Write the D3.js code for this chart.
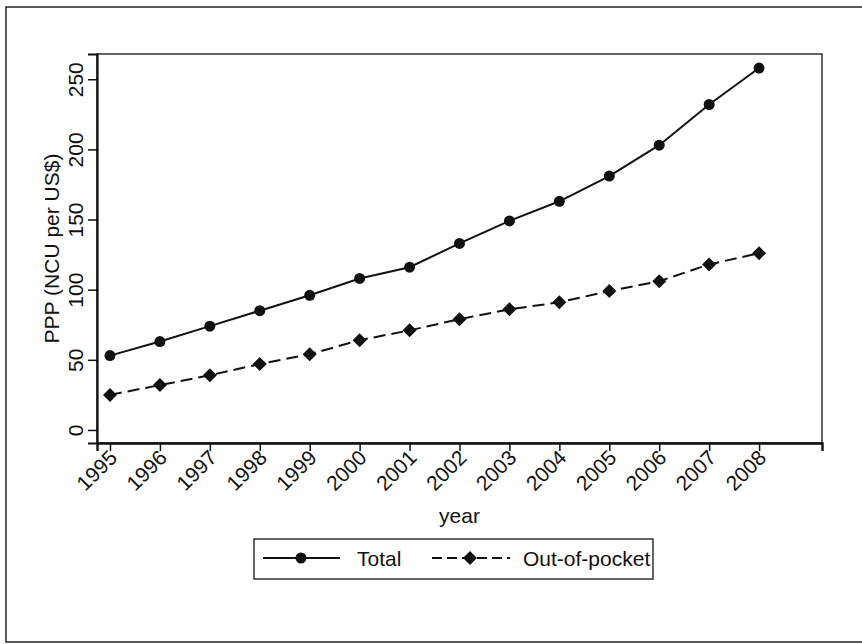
<!DOCTYPE html>
<html>
<head>
<meta charset="utf-8">
<script src="https://cdn.jsdelivr.net/npm/d3@7"></script>
<style>
  html, body { margin: 0; padding: 0; background: #fff; }
  svg { display: block; }
  text { font-family: "Liberation Sans", Arial, sans-serif; fill: #111; }
</style>
</head>
<body>
<svg id="chart" width="862" height="644"></svg>
<script>
// PPP conversion rates by year
const years = [1995, 1996, 1997, 1998, 1999, 2000, 2001, 2002, 2003, 2004, 2005, 2006, 2007, 2008];
const totalValues = [53, 63, 74, 85, 96, 108, 116, 133, 149, 163, 181, 203, 232, 258];
const outOfPocketValues = [25, 32, 39, 47, 54, 64, 71, 79, 86, 91, 99, 106, 118, 126];
const yTicks = [0, 50, 100, 150, 200, 250];
const seriesNames = ["Total", "Out-of-pocket"];

const svg = d3.select("#chart");
const W = 862, H = 644;
const plot = { left: 97, right: 822, top: 54, bottom: 443 };

// outer graph frame
svg.append("rect")
  .attr("x", 6).attr("y", 7)
  .attr("width", 860).attr("height", 635)
  .attr("fill", "none").attr("stroke", "#333").attr("stroke-width", 1.6);

const x = d3.scaleLinear().domain([1994.74, 2009.26]).range([plot.left, plot.right]);
const y = d3.scaleLinear().domain([-9.3, 268]).range([plot.bottom, plot.top]);

// plot region border
svg.append("rect")
  .attr("x", plot.left).attr("y", plot.top)
  .attr("width", plot.right - plot.left).attr("height", plot.bottom - plot.top)
  .attr("fill", "none").attr("stroke", "#222").attr("stroke-width", 1.4);

// y axis
const yAxis = svg.append("g")
  .attr("transform", `translate(${plot.left},0)`)
  .call(d3.axisLeft(y).tickValues(yTicks).tickSize(9).tickPadding(0).tickFormat(d3.format("d")));
yAxis.select(".domain").attr("stroke", "#111").attr("stroke-width", 2.2);
yAxis.selectAll(".tick line").attr("stroke", "#111").attr("stroke-width", 1.5);
yAxis.selectAll(".tick text")
  .attr("x", null).attr("dy", null)
  .attr("transform", "translate(-14,0) rotate(-90)")
  .attr("text-anchor", "middle")
  .style("font-size", "21px")
  .style("font-family", "Liberation Sans, Arial, sans-serif")
  .attr("fill", "#111");

// x axis
const xAxis = svg.append("g")
  .attr("transform", `translate(0,${plot.bottom})`)
  .call(d3.axisBottom(x).tickValues(years).tickSize(8).tickPadding(0).tickFormat(d3.format("d")));
xAxis.select(".domain").attr("stroke", "#111").attr("stroke-width", 2.4);
xAxis.selectAll(".tick line").attr("stroke", "#111").attr("stroke-width", 1.5);
xAxis.selectAll(".tick text")
  .attr("y", null).attr("dy", null)
  .attr("transform", "translate(4,12) rotate(-45)")
  .attr("text-anchor", "end")
  .attr("dominant-baseline", "middle")
  .style("font-size", "21px")
  .style("font-family", "Liberation Sans, Arial, sans-serif")
  .attr("fill", "#111");

// axis titles
svg.append("text")
  .attr("transform", `translate(59,${(plot.top + plot.bottom) / 2}) rotate(-90)`)
  .attr("text-anchor", "middle")
  .style("font-size", "21px")
  .text("PPP (NCU per US$)");

svg.append("text")
  .attr("x", (plot.left + plot.right) / 2).attr("y", 523)
  .attr("text-anchor", "middle")
  .style("font-size", "21px")
  .text("year");

// series
const totalData = years.map((yr, i) => ({ year: yr, value: totalValues[i] }));
const oopData = years.map((yr, i) => ({ year: yr, value: outOfPocketValues[i] }));
const line = d3.line().x(d => x(d.year)).y(d => y(d.value));
const diamond = s => `M0,${-s}L${s},0L0,${s}L${-s},0Z`;

svg.append("path").datum(totalData)
  .attr("d", line).attr("fill", "none")
  .attr("stroke", "#111").attr("stroke-width", 2);

svg.append("path").datum(oopData)
  .attr("d", line).attr("fill", "none")
  .attr("stroke", "#111").attr("stroke-width", 2)
  .attr("stroke-dasharray", "12,6");

svg.append("g").selectAll("circle").data(totalData).join("circle")
  .attr("cx", d => x(d.year)).attr("cy", d => y(d.value))
  .attr("r", 5.5).attr("fill", "#111");

svg.append("g").selectAll("path").data(oopData).join("path")
  .attr("transform", d => `translate(${x(d.year)},${y(d.value)})`)
  .attr("d", diamond(7)).attr("fill", "#111");

// legend
const legend = svg.append("g");
legend.append("rect")
  .attr("x", 254).attr("y", 539).attr("width", 399).attr("height", 40)
  .attr("fill", "#fff").attr("stroke", "#222").attr("stroke-width", 1.4);

const ly = 558;
legend.append("line").attr("x1", 263).attr("x2", 340).attr("y1", ly).attr("y2", ly)
  .attr("stroke", "#111").attr("stroke-width", 2);
legend.append("circle").attr("cx", 301).attr("cy", ly).attr("r", 5.5).attr("fill", "#111");
legend.append("text").attr("x", 357).attr("y", 566).style("font-size", "21px").text(seriesNames[0]);

legend.append("line").attr("x1", 432).attr("x2", 510).attr("y1", ly).attr("y2", ly)
  .attr("stroke", "#111").attr("stroke-width", 2).attr("stroke-dasharray", "10,5");
legend.append("path").attr("transform", `translate(470,${ly})`).attr("d", diamond(7)).attr("fill", "#111");
legend.append("text").attr("x", 523).attr("y", 566).style("font-size", "21px").text(seriesNames[1]);
</script>
</body>
</html>
